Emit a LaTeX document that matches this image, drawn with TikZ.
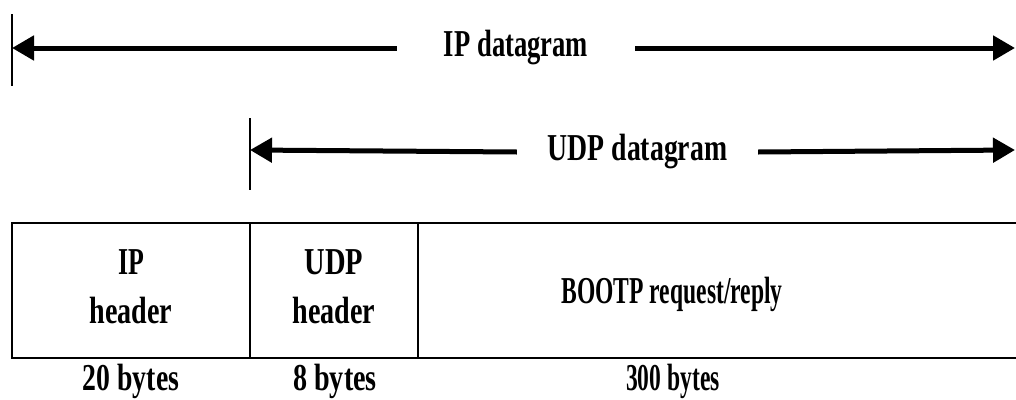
\documentclass[tikz,border=0pt]{standalone}
\usepackage{fontspec}
\setmainfont{Liberation Serif}
\usetikzlibrary{arrows.meta}
\newcommand\cnd[2]{\scalebox{#1}[1]{#2}}
\begin{document}
\begin{tikzpicture}[x=1pt,y=-1pt,
  lbl/.style={font=\fontsize{38}{40}\selectfont\bfseries, inner sep=0pt},
  edge/.style={line width=2.5pt},
  tickline/.style={line width=2pt},
  arr/.style={line width=5pt, -{Triangle[length=22pt,width=24pt]}},
]
\useasboundingbox (0,0) rectangle (1016,399);
% IP datagram arrow
\coordinate (ipL) at (12,48);
\coordinate (ipR) at (1015,48);
\coordinate (ipT) at (12,14);
\coordinate (ipB) at (12,86);
\node[lbl, minimum width=238pt] (iplab) at (516,48) {\cnd{0.70}{IP datagram}};
\draw[tickline] (ipT) -- (ipB);
\draw[arr] (iplab.west) -- (ipL);
\draw[arr] (iplab.east) -- (ipR);
% UDP datagram arrow
\coordinate (udpL) at (250,150);
\coordinate (udpR) at (1015,150);
\coordinate (udpT) at (250,118);
\coordinate (udpB) at (250,190);
\node[lbl, minimum width=241pt] (udplab) at (637.5,152) {\cnd{0.73}{UDP datagram}};
\draw[tickline] (udpT) -- (udpB);
\draw[arr] (udplab.west) -- (udpL);
\draw[arr] (udplab.east) -- (udpR);
% packet box
\draw[edge] (1016,223) -- (12,223) -- (12,358) -- (1016,358);
\draw[edge] (250,223) -- (250,358);
\draw[edge] (418,223) -- (418,358);
% cell texts
\node[lbl] (iph1) at (131,262) {\cnd{0.68}{IP}};
\node[lbl] (iph2) at (131,310) {\cnd{0.74}{header}};
\node[lbl] (udph1) at (334,262) {\cnd{0.75}{UDP}};
\node[lbl] (udph2) at (334,310) {\cnd{0.74}{header}};
\node[lbl] (boot) at (672,294) {\cnd{0.62}{BOOTP request/reply}};
% sizes
\node[lbl] (sz1) at (131,381) {\cnd{0.73}{20 bytes}};
\node[lbl] (sz2) at (335,381) {\cnd{0.74}{8 bytes}};
\node[lbl] (sz3) at (673,381) {\cnd{0.62}{300 bytes}};
\end{tikzpicture}
\end{document}
